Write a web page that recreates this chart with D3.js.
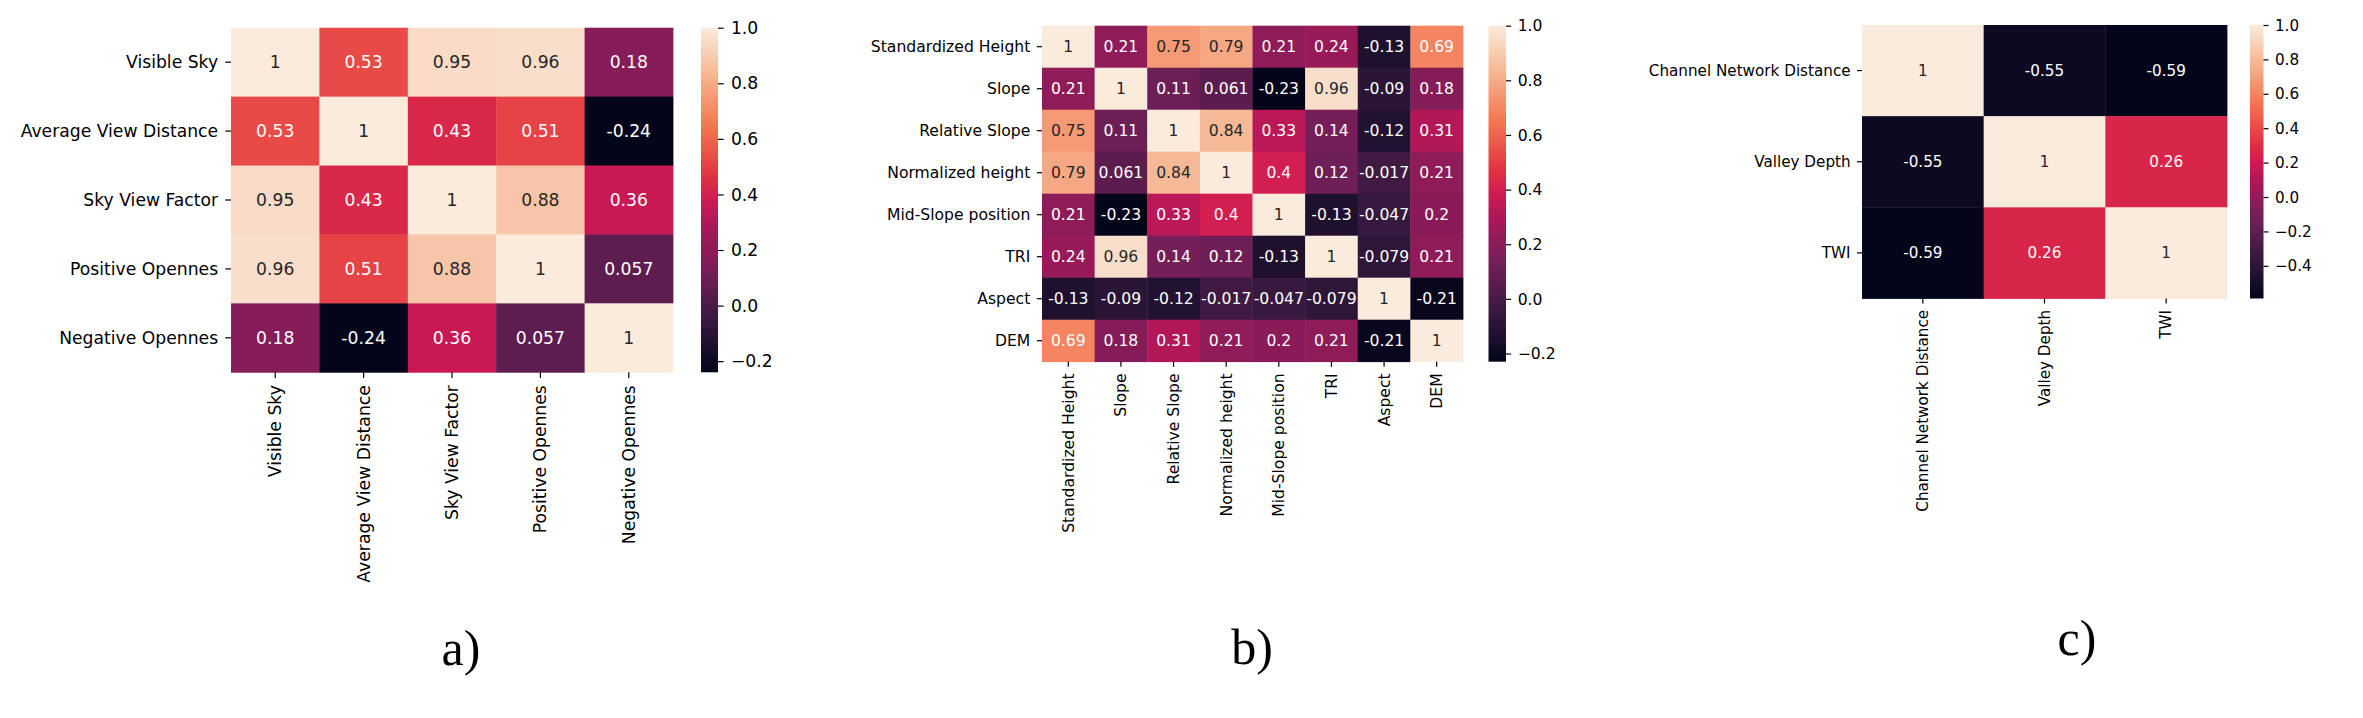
<!DOCTYPE html>
<html>
<head>
<meta charset="utf-8">
<script src="https://cdn.jsdelivr.net/npm/d3@7"></script>
<style>
  html, body { margin: 0; padding: 0; background: #fff; }
  svg { display: block; }
</style>
</head>
<body>
<div id="chart"></div>
<script>
// panel a) visibility features
var labelsA = ["Visible Sky", "Average View Distance", "Sky View Factor", "Positive Opennes", "Negative Opennes"];
var corrA = [
  [1, 0.53, 0.95, 0.96, 0.18],
  [0.53, 1, 0.43, 0.51, -0.24],
  [0.95, 0.43, 1, 0.88, 0.36],
  [0.96, 0.51, 0.88, 1, 0.057],
  [0.18, -0.24, 0.36, 0.057, 1]
];
var cbarTicksA = [-0.2, 0, 0.2, 0.4, 0.6, 0.8, 1.0];

// panel b) terrain features
var labelsB = ["Standardized Height", "Slope", "Relative Slope", "Normalized height", "Mid-Slope position", "TRI", "Aspect", "DEM"];
var corrB = [
  [1, 0.21, 0.75, 0.79, 0.21, 0.24, -0.13, 0.69],
  [0.21, 1, 0.11, 0.061, -0.23, 0.96, -0.09, 0.18],
  [0.75, 0.11, 1, 0.84, 0.33, 0.14, -0.12, 0.31],
  [0.79, 0.061, 0.84, 1, 0.4, 0.12, -0.017, 0.21],
  [0.21, -0.23, 0.33, 0.4, 1, -0.13, -0.047, 0.2],
  [0.24, 0.96, 0.14, 0.12, -0.13, 1, -0.079, 0.21],
  [-0.13, -0.09, -0.12, -0.017, -0.047, -0.079, 1, -0.21],
  [0.69, 0.18, 0.31, 0.21, 0.2, 0.21, -0.21, 1]
];
var cbarTicksB = [-0.2, 0, 0.2, 0.4, 0.6, 0.8, 1.0];

// panel c) hydrology features
var labelsC = ["Channel Network Distance", "Valley Depth", "TWI"];
var corrC = [
  [1, -0.55, -0.59],
  [-0.55, 1, 0.26],
  [-0.59, 0.26, 1]
];
var cbarTicksC = [-0.4, -0.2, 0, 0.2, 0.4, 0.6, 0.8, 1.0];

var panelNames = ["a)", "b)", "c)"];

// seaborn "rocket" approximated by a few stops
var rocketStops = [0, 0.143, 0.286, 0.429, 0.5, 0.571, 0.714, 0.857, 1];
var rocketColors = ["#03051a", "#35193e", "#701f57", "#ad1759", "#d01a54", "#e13342", "#f37651", "#f6b48f", "#faebdd"];
var rocket = d3.scaleLinear().domain(rocketStops).range(rocketColors).interpolate(d3.interpolateRgb);

var W = 2363, H = 718;
var svg = d3.select("#chart").append("svg").attr("width", W).attr("height", H);
svg.append("rect").attr("width", W).attr("height", H).attr("fill", "#fff");
var defs = svg.append("defs");

function luminance(c) {
  var rgb = d3.rgb(c);
  var lin = [rgb.r, rgb.g, rgb.b].map(function (v) {
    v = v / 255;
    return v <= 0.03928 ? v / 12.92 : Math.pow((v + 0.055) / 1.055, 2.4);
  });
  return 0.2126 * lin[0] + 0.7152 * lin[1] + 0.0722 * lin[2];
}

function heatmap(p) {
  var vals = d3.merge(p.values);
  var vmin = d3.min(vals), vmax = d3.max(vals);
  var color = function (v) { return rocket((v - vmin) / (vmax - vmin)); };
  var fs = p.fs, tick = p.fs * 0.33, pad = p.fs * 0.42;

  var x = d3.scaleBand().domain(p.labels).range([p.x0, p.x1]);
  var y = d3.scaleBand().domain(p.labels).range([p.y0, p.y1]);
  var g = svg.append("g");

  var cells = [];
  p.values.forEach(function (row, i) {
    row.forEach(function (v, j) { cells.push({r: p.labels[i], c: p.labels[j], v: v}); });
  });

  g.selectAll("rect.cell").data(cells).enter().append("rect")
      .attr("class", "cell")
      .attr("x", function (d) { return x(d.c); })
      .attr("y", function (d) { return y(d.r); })
      .attr("width", x.bandwidth() + 0.4)
      .attr("height", y.bandwidth() + 0.4)
      .attr("fill", function (d) { return color(d.v); });

  g.selectAll("text.annot").data(cells).enter().append("text")
      .attr("class", "annot")
      .attr("x", function (d) { return x(d.c) + x.bandwidth() / 2; })
      .attr("y", function (d) { return y(d.r) + y.bandwidth() / 2; })
      .attr("text-anchor", "middle")
      .attr("dominant-baseline", "central")
      .style("font-family", "'DejaVu Sans'")
      .style("font-size", fs + "px")
      .attr("fill", function (d) { return luminance(color(d.v)) > 0.408 ? "#262626" : "#ffffff"; })
      .text(function (d) { return String(d.v); });

  // y axis
  var ya = g.append("g").attr("transform", "translate(" + p.x0 + ",0)")
      .call(d3.axisLeft(y).tickSize(tick).tickPadding(pad));
  ya.select(".domain").remove();
  ya.selectAll("line").attr("stroke", "#000").attr("stroke-width", 1.2);
  ya.selectAll("text").style("font-family", "'DejaVu Sans'").style("font-size", fs + "px")
      .attr("fill", "#000").attr("dy", "0.33em");

  // x axis, labels rotated
  var xa = g.append("g").attr("transform", "translate(0," + p.y1 + ")")
      .call(d3.axisBottom(x).tickSize(tick).tickPadding(pad));
  xa.select(".domain").remove();
  xa.selectAll("line").attr("stroke", "#000").attr("stroke-width", 1.2);
  xa.selectAll("text").style("font-family", "'DejaVu Sans'").style("font-size", fs + "px")
      .attr("fill", "#000")
      .attr("transform", "rotate(-90)")
      .attr("x", -(tick + pad))
      .attr("y", 0)
      .attr("dy", "0.35em")
      .attr("text-anchor", "end");

  // colorbar
  var gid = "grad" + p.id;
  var grad = defs.append("linearGradient").attr("id", gid)
      .attr("x1", 0).attr("y1", 1).attr("x2", 0).attr("y2", 0);
  d3.range(0, 1.0001, 1 / 64).forEach(function (t) {
    grad.append("stop").attr("offset", t).attr("stop-color", rocket(t));
  });
  g.append("rect")
      .attr("x", p.cx0).attr("y", p.y0)
      .attr("width", p.cx1 - p.cx0).attr("height", p.y1 - p.y0)
      .attr("fill", "url(#" + gid + ")");
  var cs = d3.scaleLinear().domain([vmin, vmax]).range([p.y1, p.y0]);
  var ca = g.append("g").attr("transform", "translate(" + p.cx1 + ",0)")
      .call(d3.axisRight(cs).tickValues(p.cticks).tickFormat(d3.format(".1f")).tickSize(tick).tickPadding(pad));
  ca.select(".domain").remove();
  ca.selectAll("line").attr("stroke", "#000").attr("stroke-width", 1.2);
  ca.selectAll("text").style("font-family", "'DejaVu Sans'").style("font-size", fs + "px")
      .attr("fill", "#000").attr("dy", "0.33em");

  // panel letter
  svg.append("text")
      .attr("x", p.lx).attr("y", p.ly)
      .attr("text-anchor", "middle")
      .style("font-family", "'Liberation Serif', 'Times New Roman', serif")
      .style("font-size", "50px")
      .attr("fill", "#000")
      .text(p.name);
}

heatmap({id: "a", name: panelNames[0], labels: labelsA, values: corrA, cticks: cbarTicksA,
  x0: 231, x1: 673, y0: 27.7, y1: 372.3, cx0: 701, cx1: 718, fs: 17.2, lx: 461, ly: 665});
heatmap({id: "b", name: panelNames[1], labels: labelsB, values: corrB, cticks: cbarTicksB,
  x0: 1042, x1: 1463, y0: 25.7, y1: 361.7, cx0: 1488.5, cx1: 1506, fs: 15.6, lx: 1252, ly: 664});
heatmap({id: "c", name: panelNames[2], labels: labelsC, values: corrC, cticks: cbarTicksC,
  x0: 1862, x1: 2227, y0: 25, y1: 298.5, cx0: 2250, cx1: 2263.5, fs: 15.2, lx: 2077, ly: 655});
</script>
</body>
</html>
